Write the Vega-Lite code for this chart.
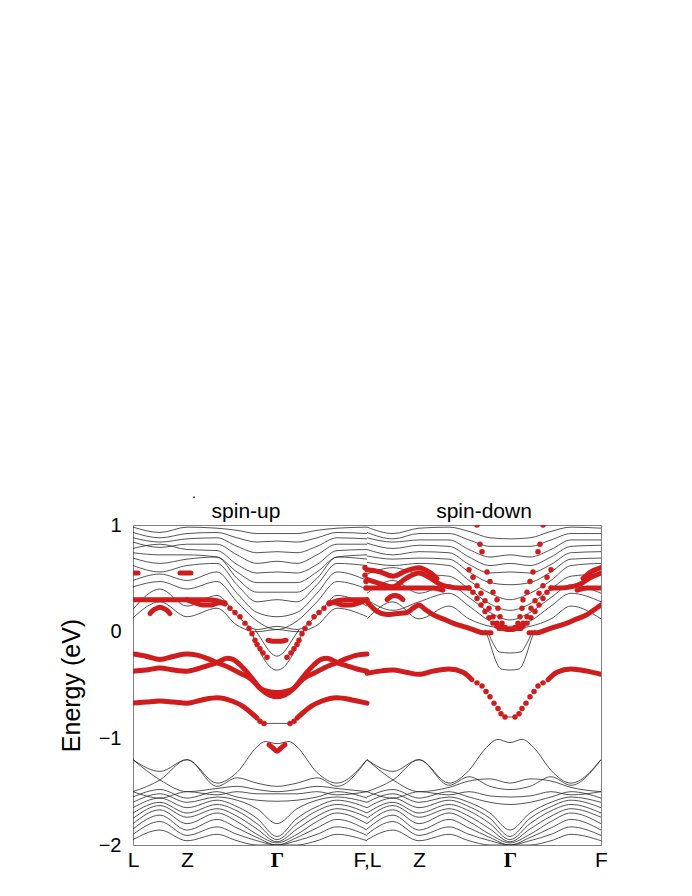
{
"$schema": "https://vega.github.io/schema/vega-lite/v6.json",
"width": 468, "height": 320,
"autosize": {"type": "none"},
"padding": {"left": 133, "top": 525, "right": 91, "bottom": 51},
"background": "white",
"config": {"view": {"stroke": "#808080", "strokeWidth": 1}},
"datasets": {
"vl": [{"x":54},{"x":144},{"x":234},{"x":286},{"x":377}],
"tt": [{"t":"spin-up","x":113,"e":1},{"t":"spin-down","x":351,"e":1}],
"bk": [
{"b":"U1","x":0,"e":0.98},{"b":"U1","x":27,"e":0.93},{"b":"U1","x":54,"e":0.98},{"b":"U1","x":84,"e":0.97},{"b":"U1","x":104,"e":0.95},{"b":"U1","x":124,"e":0.92},{"b":"U1","x":144,"e":0.92},{"b":"U1","x":164,"e":0.92},{"b":"U1","x":184,"e":0.95},{"b":"U1","x":204,"e":0.97},{"b":"U1","x":234,"e":0.98},
{"b":"U2","x":0,"e":0.93},{"b":"U2","x":27,"e":0.88},{"b":"U2","x":54,"e":0.92},{"b":"U2","x":84,"e":0.93},{"b":"U2","x":104,"e":0.88},{"b":"U2","x":124,"e":0.84},{"b":"U2","x":144,"e":0.85},{"b":"U2","x":164,"e":0.84},{"b":"U2","x":184,"e":0.88},{"b":"U2","x":204,"e":0.93},{"b":"U2","x":234,"e":0.92},
{"b":"U3","x":0,"e":0.88},{"b":"U3","x":27,"e":0.84},{"b":"U3","x":54,"e":0.87},{"b":"U3","x":84,"e":0.88},{"b":"U3","x":104,"e":0.80},{"b":"U3","x":124,"e":0.74},{"b":"U3","x":144,"e":0.75},{"b":"U3","x":164,"e":0.74},{"b":"U3","x":184,"e":0.80},{"b":"U3","x":204,"e":0.88},{"b":"U3","x":234,"e":0.87},
{"b":"U4","x":0,"e":0.84},{"b":"U4","x":27,"e":0.79},{"b":"U4","x":54,"e":0.82},{"b":"U4","x":84,"e":0.82},{"b":"U4","x":104,"e":0.72},{"b":"U4","x":124,"e":0.64},{"b":"U4","x":144,"e":0.66},{"b":"U4","x":164,"e":0.64},{"b":"U4","x":184,"e":0.72},{"b":"U4","x":204,"e":0.82},{"b":"U4","x":234,"e":0.82},
{"b":"U5","x":0,"e":0.78},{"b":"U5","x":27,"e":0.82},{"b":"U5","x":54,"e":0.77},{"b":"U5","x":84,"e":0.76},{"b":"U5","x":104,"e":0.63},{"b":"U5","x":124,"e":0.55},{"b":"U5","x":144,"e":0.56},{"b":"U5","x":164,"e":0.55},{"b":"U5","x":184,"e":0.63},{"b":"U5","x":204,"e":0.76},{"b":"U5","x":234,"e":0.77},
{"b":"U6","x":0,"e":0.74},{"b":"U6","x":27,"e":0.72},{"b":"U6","x":54,"e":0.72},{"b":"U6","x":84,"e":0.70},{"b":"U6","x":104,"e":0.56},{"b":"U6","x":124,"e":0.46},{"b":"U6","x":144,"e":0.46},{"b":"U6","x":164,"e":0.46},{"b":"U6","x":184,"e":0.56},{"b":"U6","x":204,"e":0.70},{"b":"U6","x":234,"e":0.72},
{"b":"U7","x":0,"e":0.69},{"b":"U7","x":27,"e":0.64},{"b":"U7","x":54,"e":0.68},{"b":"U7","x":84,"e":0.70},{"b":"U7","x":104,"e":0.50},{"b":"U7","x":124,"e":0.37},{"b":"U7","x":144,"e":0.37},{"b":"U7","x":164,"e":0.37},{"b":"U7","x":184,"e":0.50},{"b":"U7","x":204,"e":0.70},{"b":"U7","x":234,"e":0.68},
{"b":"U8","x":0,"e":0.62},{"b":"U8","x":27,"e":0.56},{"b":"U8","x":54,"e":0.62},{"b":"U8","x":84,"e":0.64},{"b":"U8","x":104,"e":0.44},{"b":"U8","x":124,"e":0.28},{"b":"U8","x":144,"e":0.30},{"b":"U8","x":164,"e":0.28},{"b":"U8","x":184,"e":0.44},{"b":"U8","x":204,"e":0.64},{"b":"U8","x":234,"e":0.62},
{"b":"U9","x":0,"e":0.48},{"b":"U9","x":27,"e":0.54},{"b":"U9","x":54,"e":0.48},{"b":"U9","x":84,"e":0.56},{"b":"U9","x":104,"e":0.36},{"b":"U9","x":124,"e":0.18},{"b":"U9","x":144,"e":0.14},{"b":"U9","x":164,"e":0.18},{"b":"U9","x":184,"e":0.36},{"b":"U9","x":204,"e":0.56},{"b":"U9","x":234,"e":0.48},
{"b":"U10","x":0,"e":0.42},{"b":"U10","x":27,"e":0.47},{"b":"U10","x":54,"e":0.40},{"b":"U10","x":84,"e":0.47},{"b":"U10","x":104,"e":0.28},{"b":"U10","x":124,"e":0.10},{"b":"U10","x":144,"e":0.02},{"b":"U10","x":164,"e":0.10},{"b":"U10","x":184,"e":0.28},{"b":"U10","x":204,"e":0.47},{"b":"U10","x":234,"e":0.40},
{"b":"U11","x":0,"e":0.21},{"b":"U11","x":27,"e":0.40},{"b":"U11","x":54,"e":0.24},{"b":"U11","x":84,"e":0.34},{"b":"U11","x":104,"e":0.15},{"b":"U11","x":124,"e":0.02},{"b":"U11","x":144,"e":0.05},{"b":"U11","x":164,"e":0.02},{"b":"U11","x":184,"e":0.15},{"b":"U11","x":204,"e":0.34},{"b":"U11","x":234,"e":0.24},
{"b":"U12","x":0,"e":0.13},{"b":"U12","x":27,"e":0.28},{"b":"U12","x":54,"e":0.14},{"b":"U12","x":84,"e":0.22},{"b":"U12","x":104,"e":0.06},{"b":"U12","x":124,"e":0.0},{"b":"U12","x":144,"e":0.02},{"b":"U12","x":164,"e":0.0},{"b":"U12","x":184,"e":0.06},{"b":"U12","x":204,"e":0.22},{"b":"U12","x":234,"e":0.14},
{"b":"P1","x":122,"e":0.02},{"b":"P1","x":129,"e":-0.08},{"b":"P1","x":137,"e":-0.19},{"b":"P1","x":144,"e":-0.23},{"b":"P1","x":151,"e":-0.19},{"b":"P1","x":159,"e":-0.08},{"b":"P1","x":166,"e":0.02},
{"b":"P2","x":117,"e":0.02},{"b":"P2","x":122,"e":-0.08},{"b":"P2","x":130,"e":-0.24},{"b":"P2","x":137,"e":-0.33},{"b":"P2","x":144,"e":-0.36},{"b":"P2","x":151,"e":-0.33},{"b":"P2","x":158,"e":-0.24},{"b":"P2","x":166,"e":-0.08},{"b":"P2","x":171,"e":0.02},
{"b":"K1","x":131,"e":-0.86},{"b":"K1","x":144,"e":-0.86},{"b":"K1","x":157,"e":-0.86},
{"b":"L1","x":0,"e":-1.20},{"b":"L1","x":27,"e":-1.31},{"b":"L1","x":54,"e":-1.20},{"b":"L1","x":84,"e":-1.42},{"b":"L1","x":104,"e":-1.32},{"b":"L1","x":124,"e":-1.08},{"b":"L1","x":132,"e":-1.03},{"b":"L1","x":144,"e":-1.05},{"b":"L1","x":156,"e":-1.03},{"b":"L1","x":164,"e":-1.08},{"b":"L1","x":184,"e":-1.32},{"b":"L1","x":204,"e":-1.42},{"b":"L1","x":234,"e":-1.20},
{"b":"L2","x":0,"e":-1.20},{"b":"L2","x":27,"e":-1.39},{"b":"L2","x":54,"e":-1.50},{"b":"L2","x":84,"e":-1.47},{"b":"L2","x":104,"e":-1.45},{"b":"L2","x":124,"e":-1.48},{"b":"L2","x":144,"e":-1.50},{"b":"L2","x":164,"e":-1.48},{"b":"L2","x":184,"e":-1.45},{"b":"L2","x":204,"e":-1.47},{"b":"L2","x":234,"e":-1.50},
{"b":"L3","x":0,"e":-1.50},{"b":"L3","x":27,"e":-1.39},{"b":"L3","x":54,"e":-1.20},{"b":"L3","x":84,"e":-1.45},{"b":"L3","x":104,"e":-1.37},{"b":"L3","x":124,"e":-1.42},{"b":"L3","x":144,"e":-1.45},{"b":"L3","x":164,"e":-1.42},{"b":"L3","x":184,"e":-1.37},{"b":"L3","x":204,"e":-1.45},{"b":"L3","x":234,"e":-1.20},
{"b":"L4","x":0,"e":-1.50},{"b":"L4","x":27,"e":-1.56},{"b":"L4","x":54,"e":-1.50},{"b":"L4","x":84,"e":-1.53},{"b":"L4","x":104,"e":-1.50},{"b":"L4","x":124,"e":-1.52},{"b":"L4","x":144,"e":-1.52},{"b":"L4","x":164,"e":-1.52},{"b":"L4","x":184,"e":-1.50},{"b":"L4","x":204,"e":-1.53},{"b":"L4","x":234,"e":-1.50},
{"b":"L5","x":0,"e":-1.55},{"b":"L5","x":27,"e":-1.48},{"b":"L5","x":54,"e":-1.56},{"b":"L5","x":84,"e":-1.50},{"b":"L5","x":104,"e":-1.55},{"b":"L5","x":124,"e":-1.58},{"b":"L5","x":144,"e":-1.59},{"b":"L5","x":164,"e":-1.58},{"b":"L5","x":184,"e":-1.55},{"b":"L5","x":204,"e":-1.50},{"b":"L5","x":234,"e":-1.56},
{"b":"L6","x":0,"e":-1.60},{"b":"L6","x":27,"e":-1.52},{"b":"L6","x":54,"e":-1.60},{"b":"L6","x":84,"e":-1.55},{"b":"L6","x":104,"e":-1.58},{"b":"L6","x":124,"e":-1.66},{"b":"L6","x":144,"e":-1.80},{"b":"L6","x":164,"e":-1.66},{"b":"L6","x":184,"e":-1.58},{"b":"L6","x":204,"e":-1.55},{"b":"L6","x":234,"e":-1.60},
{"b":"L7","x":0,"e":-1.65},{"b":"L7","x":27,"e":-1.56},{"b":"L7","x":54,"e":-1.65},{"b":"L7","x":84,"e":-1.58},{"b":"L7","x":104,"e":-1.64},{"b":"L7","x":124,"e":-1.75},{"b":"L7","x":144,"e":-1.92},{"b":"L7","x":164,"e":-1.75},{"b":"L7","x":184,"e":-1.64},{"b":"L7","x":204,"e":-1.58},{"b":"L7","x":234,"e":-1.65},
{"b":"L8","x":0,"e":-1.70},{"b":"L8","x":27,"e":-1.60},{"b":"L8","x":54,"e":-1.70},{"b":"L8","x":84,"e":-1.62},{"b":"L8","x":104,"e":-1.68},{"b":"L8","x":124,"e":-1.80},{"b":"L8","x":144,"e":-1.95},{"b":"L8","x":164,"e":-1.80},{"b":"L8","x":184,"e":-1.68},{"b":"L8","x":204,"e":-1.62},{"b":"L8","x":234,"e":-1.70},
{"b":"L9","x":0,"e":-1.75},{"b":"L9","x":27,"e":-1.63},{"b":"L9","x":54,"e":-1.74},{"b":"L9","x":84,"e":-1.66},{"b":"L9","x":104,"e":-1.73},{"b":"L9","x":124,"e":-1.85},{"b":"L9","x":144,"e":-1.97},{"b":"L9","x":164,"e":-1.85},{"b":"L9","x":184,"e":-1.73},{"b":"L9","x":204,"e":-1.66},{"b":"L9","x":234,"e":-1.74},
{"b":"L10","x":0,"e":-1.80},{"b":"L10","x":27,"e":-1.67},{"b":"L10","x":54,"e":-1.80},{"b":"L10","x":84,"e":-1.70},{"b":"L10","x":104,"e":-1.78},{"b":"L10","x":124,"e":-1.90},{"b":"L10","x":144,"e":-1.98},{"b":"L10","x":164,"e":-1.90},{"b":"L10","x":184,"e":-1.78},{"b":"L10","x":204,"e":-1.70},{"b":"L10","x":234,"e":-1.80},
{"b":"L11","x":0,"e":-1.85},{"b":"L11","x":27,"e":-1.72},{"b":"L11","x":54,"e":-1.86},{"b":"L11","x":84,"e":-1.76},{"b":"L11","x":104,"e":-1.84},{"b":"L11","x":124,"e":-1.93},{"b":"L11","x":144,"e":-2.0},{"b":"L11","x":164,"e":-1.93},{"b":"L11","x":184,"e":-1.84},{"b":"L11","x":204,"e":-1.76},{"b":"L11","x":234,"e":-1.86},
{"b":"L12","x":0,"e":-1.90},{"b":"L12","x":27,"e":-1.78},{"b":"L12","x":54,"e":-1.91},{"b":"L12","x":84,"e":-1.83},{"b":"L12","x":104,"e":-1.90},{"b":"L12","x":124,"e":-1.96},{"b":"L12","x":144,"e":-2.0},{"b":"L12","x":164,"e":-1.96},{"b":"L12","x":184,"e":-1.90},{"b":"L12","x":204,"e":-1.83},{"b":"L12","x":234,"e":-1.91},
{"b":"L13","x":0,"e":-1.95},{"b":"L13","x":27,"e":-1.86},{"b":"L13","x":54,"e":-1.96},{"b":"L13","x":84,"e":-1.90},{"b":"L13","x":104,"e":-1.96},{"b":"L13","x":124,"e":-2.0},{"b":"L13","x":144,"e":-2.0},{"b":"L13","x":164,"e":-2.0},{"b":"L13","x":184,"e":-1.96},{"b":"L13","x":204,"e":-1.90},{"b":"L13","x":234,"e":-1.96},
{"b":"D1","x":234,"e":0.98},{"b":"D1","x":260,"e":0.92},{"b":"D1","x":286,"e":0.97},{"b":"D1","x":316,"e":0.98},{"b":"D1","x":336,"e":0.94},{"b":"D1","x":357,"e":0.88},{"b":"D1","x":377,"e":0.87},{"b":"D1","x":397,"e":0.88},{"b":"D1","x":418,"e":0.94},{"b":"D1","x":438,"e":0.98},{"b":"D1","x":468,"e":0.97},
{"b":"D2","x":234,"e":0.93},{"b":"D2","x":260,"e":0.87},{"b":"D2","x":286,"e":0.92},{"b":"D2","x":316,"e":0.92},{"b":"D2","x":336,"e":0.86},{"b":"D2","x":357,"e":0.80},{"b":"D2","x":377,"e":0.80},{"b":"D2","x":397,"e":0.80},{"b":"D2","x":418,"e":0.86},{"b":"D2","x":438,"e":0.92},{"b":"D2","x":468,"e":0.92},
{"b":"D3","x":234,"e":0.88},{"b":"D3","x":260,"e":0.84},{"b":"D3","x":286,"e":0.86},{"b":"D3","x":316,"e":0.86},{"b":"D3","x":336,"e":0.77},{"b":"D3","x":357,"e":0.70},{"b":"D3","x":377,"e":0.72},{"b":"D3","x":397,"e":0.70},{"b":"D3","x":418,"e":0.77},{"b":"D3","x":438,"e":0.86},{"b":"D3","x":468,"e":0.86},
{"b":"D4","x":234,"e":0.83},{"b":"D4","x":260,"e":0.78},{"b":"D4","x":286,"e":0.81},{"b":"D4","x":316,"e":0.80},{"b":"D4","x":336,"e":0.70},{"b":"D4","x":357,"e":0.62},{"b":"D4","x":377,"e":0.64},{"b":"D4","x":397,"e":0.62},{"b":"D4","x":418,"e":0.70},{"b":"D4","x":438,"e":0.80},{"b":"D4","x":468,"e":0.81},
{"b":"D5","x":234,"e":0.77},{"b":"D5","x":260,"e":0.72},{"b":"D5","x":286,"e":0.75},{"b":"D5","x":316,"e":0.74},{"b":"D5","x":336,"e":0.63},{"b":"D5","x":357,"e":0.55},{"b":"D5","x":377,"e":0.56},{"b":"D5","x":397,"e":0.55},{"b":"D5","x":418,"e":0.63},{"b":"D5","x":438,"e":0.74},{"b":"D5","x":468,"e":0.75},
{"b":"D6","x":234,"e":0.71},{"b":"D6","x":260,"e":0.68},{"b":"D6","x":286,"e":0.69},{"b":"D6","x":316,"e":0.68},{"b":"D6","x":336,"e":0.56},{"b":"D6","x":357,"e":0.46},{"b":"D6","x":377,"e":0.44},{"b":"D6","x":397,"e":0.46},{"b":"D6","x":418,"e":0.56},{"b":"D6","x":438,"e":0.68},{"b":"D6","x":468,"e":0.69},
{"b":"D7","x":234,"e":0.65},{"b":"D7","x":260,"e":0.62},{"b":"D7","x":286,"e":0.64},{"b":"D7","x":316,"e":0.62},{"b":"D7","x":336,"e":0.48},{"b":"D7","x":357,"e":0.36},{"b":"D7","x":377,"e":0.30},{"b":"D7","x":397,"e":0.36},{"b":"D7","x":418,"e":0.48},{"b":"D7","x":438,"e":0.62},{"b":"D7","x":468,"e":0.64},
{"b":"D8","x":234,"e":0.54},{"b":"D8","x":260,"e":0.60},{"b":"D8","x":286,"e":0.54},{"b":"D8","x":316,"e":0.52},{"b":"D8","x":336,"e":0.40},{"b":"D8","x":357,"e":0.26},{"b":"D8","x":377,"e":0.20},{"b":"D8","x":397,"e":0.26},{"b":"D8","x":418,"e":0.40},{"b":"D8","x":438,"e":0.52},{"b":"D8","x":468,"e":0.54},
{"b":"D9","x":234,"e":0.36},{"b":"D9","x":260,"e":0.48},{"b":"D9","x":286,"e":0.36},{"b":"D9","x":316,"e":0.44},{"b":"D9","x":336,"e":0.32},{"b":"D9","x":357,"e":0.18},{"b":"D9","x":377,"e":0.11},{"b":"D9","x":397,"e":0.18},{"b":"D9","x":418,"e":0.32},{"b":"D9","x":438,"e":0.44},{"b":"D9","x":468,"e":0.36},
{"b":"D10","x":234,"e":0.30},{"b":"D10","x":260,"e":0.20},{"b":"D10","x":286,"e":0.28},{"b":"D10","x":316,"e":0.36},{"b":"D10","x":336,"e":0.24},{"b":"D10","x":357,"e":0.10},{"b":"D10","x":377,"e":0.05},{"b":"D10","x":397,"e":0.10},{"b":"D10","x":418,"e":0.24},{"b":"D10","x":438,"e":0.36},{"b":"D10","x":468,"e":0.28},
{"b":"D11","x":234,"e":0.12},{"b":"D11","x":260,"e":0.28},{"b":"D11","x":286,"e":0.12},{"b":"D11","x":316,"e":0.24},{"b":"D11","x":336,"e":0.12},{"b":"D11","x":357,"e":0.05},{"b":"D11","x":377,"e":0.03},{"b":"D11","x":397,"e":0.05},{"b":"D11","x":418,"e":0.12},{"b":"D11","x":438,"e":0.24},{"b":"D11","x":468,"e":0.12},
{"b":"Q1","x":355,"e":0.0},{"b":"Q1","x":358,"e":-0.07},{"b":"Q1","x":362,"e":-0.14},{"b":"Q1","x":366,"e":-0.19},{"b":"Q1","x":377,"e":-0.20},{"b":"Q1","x":388,"e":-0.19},{"b":"Q1","x":392,"e":-0.14},{"b":"Q1","x":396,"e":-0.07},{"b":"Q1","x":399,"e":0.0},
{"b":"Q2","x":352,"e":0.02},{"b":"Q2","x":356,"e":-0.08},{"b":"Q2","x":360,"e":-0.20},{"b":"Q2","x":364,"e":-0.30},{"b":"Q2","x":368,"e":-0.35},{"b":"Q2","x":377,"e":-0.36},{"b":"Q2","x":386,"e":-0.35},{"b":"Q2","x":390,"e":-0.30},{"b":"Q2","x":394,"e":-0.20},{"b":"Q2","x":398,"e":-0.08},{"b":"Q2","x":402,"e":0.02},
{"b":"K2","x":372,"e":-0.80},{"b":"K2","x":377,"e":-0.80},{"b":"K2","x":382,"e":-0.80},
{"b":"E1","x":234,"e":-1.20},{"b":"E1","x":260,"e":-1.31},{"b":"E1","x":286,"e":-1.20},{"b":"E1","x":316,"e":-1.42},{"b":"E1","x":336,"e":-1.30},{"b":"E1","x":352,"e":-1.10},{"b":"E1","x":365,"e":-1.01},{"b":"E1","x":377,"e":-1.04},{"b":"E1","x":389,"e":-1.01},{"b":"E1","x":402,"e":-1.10},{"b":"E1","x":418,"e":-1.30},{"b":"E1","x":438,"e":-1.42},{"b":"E1","x":468,"e":-1.20},
{"b":"E2","x":234,"e":-1.20},{"b":"E2","x":260,"e":-1.39},{"b":"E2","x":286,"e":-1.50},{"b":"E2","x":316,"e":-1.46},{"b":"E2","x":336,"e":-1.40},{"b":"E2","x":357,"e":-1.38},{"b":"E2","x":377,"e":-1.42},{"b":"E2","x":397,"e":-1.38},{"b":"E2","x":418,"e":-1.40},{"b":"E2","x":438,"e":-1.46},{"b":"E2","x":468,"e":-1.50},
{"b":"E3","x":234,"e":-1.50},{"b":"E3","x":260,"e":-1.39},{"b":"E3","x":286,"e":-1.20},{"b":"E3","x":316,"e":-1.44},{"b":"E3","x":336,"e":-1.36},{"b":"E3","x":357,"e":-1.45},{"b":"E3","x":377,"e":-1.48},{"b":"E3","x":397,"e":-1.45},{"b":"E3","x":418,"e":-1.36},{"b":"E3","x":438,"e":-1.44},{"b":"E3","x":468,"e":-1.20},
{"b":"E4","x":234,"e":-1.50},{"b":"E4","x":260,"e":-1.56},{"b":"E4","x":286,"e":-1.50},{"b":"E4","x":316,"e":-1.53},{"b":"E4","x":336,"e":-1.50},{"b":"E4","x":357,"e":-1.54},{"b":"E4","x":377,"e":-1.55},{"b":"E4","x":397,"e":-1.54},{"b":"E4","x":418,"e":-1.50},{"b":"E4","x":438,"e":-1.53},{"b":"E4","x":468,"e":-1.50},
{"b":"E5","x":234,"e":-1.55},{"b":"E5","x":260,"e":-1.48},{"b":"E5","x":286,"e":-1.56},{"b":"E5","x":316,"e":-1.50},{"b":"E5","x":336,"e":-1.55},{"b":"E5","x":357,"e":-1.60},{"b":"E5","x":377,"e":-1.62},{"b":"E5","x":397,"e":-1.60},{"b":"E5","x":418,"e":-1.55},{"b":"E5","x":438,"e":-1.50},{"b":"E5","x":468,"e":-1.56},
{"b":"E6","x":234,"e":-1.60},{"b":"E6","x":260,"e":-1.52},{"b":"E6","x":286,"e":-1.60},{"b":"E6","x":316,"e":-1.55},{"b":"E6","x":336,"e":-1.60},{"b":"E6","x":357,"e":-1.70},{"b":"E6","x":377,"e":-1.86},{"b":"E6","x":397,"e":-1.70},{"b":"E6","x":418,"e":-1.60},{"b":"E6","x":438,"e":-1.55},{"b":"E6","x":468,"e":-1.60},
{"b":"E7","x":234,"e":-1.65},{"b":"E7","x":260,"e":-1.56},{"b":"E7","x":286,"e":-1.65},{"b":"E7","x":316,"e":-1.58},{"b":"E7","x":336,"e":-1.64},{"b":"E7","x":357,"e":-1.75},{"b":"E7","x":377,"e":-1.92},{"b":"E7","x":397,"e":-1.75},{"b":"E7","x":418,"e":-1.64},{"b":"E7","x":438,"e":-1.58},{"b":"E7","x":468,"e":-1.65},
{"b":"E8","x":234,"e":-1.70},{"b":"E8","x":260,"e":-1.60},{"b":"E8","x":286,"e":-1.70},{"b":"E8","x":316,"e":-1.62},{"b":"E8","x":336,"e":-1.68},{"b":"E8","x":357,"e":-1.80},{"b":"E8","x":377,"e":-1.95},{"b":"E8","x":397,"e":-1.80},{"b":"E8","x":418,"e":-1.68},{"b":"E8","x":438,"e":-1.62},{"b":"E8","x":468,"e":-1.70},
{"b":"E9","x":234,"e":-1.75},{"b":"E9","x":260,"e":-1.63},{"b":"E9","x":286,"e":-1.74},{"b":"E9","x":316,"e":-1.66},{"b":"E9","x":336,"e":-1.73},{"b":"E9","x":357,"e":-1.85},{"b":"E9","x":377,"e":-1.97},{"b":"E9","x":397,"e":-1.85},{"b":"E9","x":418,"e":-1.73},{"b":"E9","x":438,"e":-1.66},{"b":"E9","x":468,"e":-1.74},
{"b":"E10","x":234,"e":-1.80},{"b":"E10","x":260,"e":-1.67},{"b":"E10","x":286,"e":-1.80},{"b":"E10","x":316,"e":-1.70},{"b":"E10","x":336,"e":-1.78},{"b":"E10","x":357,"e":-1.90},{"b":"E10","x":377,"e":-1.98},{"b":"E10","x":397,"e":-1.90},{"b":"E10","x":418,"e":-1.78},{"b":"E10","x":438,"e":-1.70},{"b":"E10","x":468,"e":-1.80},
{"b":"E11","x":234,"e":-1.85},{"b":"E11","x":260,"e":-1.72},{"b":"E11","x":286,"e":-1.86},{"b":"E11","x":316,"e":-1.76},{"b":"E11","x":336,"e":-1.84},{"b":"E11","x":357,"e":-1.93},{"b":"E11","x":377,"e":-2.0},{"b":"E11","x":397,"e":-1.93},{"b":"E11","x":418,"e":-1.84},{"b":"E11","x":438,"e":-1.76},{"b":"E11","x":468,"e":-1.86},
{"b":"E12","x":234,"e":-1.90},{"b":"E12","x":260,"e":-1.78},{"b":"E12","x":286,"e":-1.91},{"b":"E12","x":316,"e":-1.83},{"b":"E12","x":336,"e":-1.90},{"b":"E12","x":357,"e":-1.96},{"b":"E12","x":377,"e":-2.0},{"b":"E12","x":397,"e":-1.96},{"b":"E12","x":418,"e":-1.90},{"b":"E12","x":438,"e":-1.83},{"b":"E12","x":468,"e":-1.91},
{"b":"E13","x":234,"e":-1.95},{"b":"E13","x":260,"e":-1.86},{"b":"E13","x":286,"e":-1.96},{"b":"E13","x":316,"e":-1.90},{"b":"E13","x":336,"e":-1.96},{"b":"E13","x":357,"e":-2.0},{"b":"E13","x":377,"e":-2.0},{"b":"E13","x":397,"e":-2.0},{"b":"E13","x":418,"e":-1.96},{"b":"E13","x":438,"e":-1.90},{"b":"E13","x":468,"e":-1.96}
],
"rl": [
{"b":"rA","x":0,"e":-0.21},{"b":"rA","x":13,"e":-0.23},{"b":"rA","x":27,"e":-0.26},{"b":"rA","x":41,"e":-0.23},{"b":"rA","x":54,"e":-0.21},{"b":"rA","x":64,"e":-0.22},{"b":"rA","x":74,"e":-0.25},{"b":"rA","x":84,"e":-0.29},{"b":"rA","x":97,"e":-0.34},{"b":"rA","x":107,"e":-0.39},{"b":"rA","x":114,"e":-0.42},{"b":"rA","x":121,"e":-0.47},{"b":"rA","x":127,"e":-0.53},{"b":"rA","x":135,"e":-0.56},{"b":"rA","x":144,"e":-0.57},{"b":"rA","x":153,"e":-0.56},{"b":"rA","x":161,"e":-0.53},{"b":"rA","x":167,"e":-0.47},{"b":"rA","x":174,"e":-0.42},{"b":"rA","x":181,"e":-0.39},{"b":"rA","x":191,"e":-0.34},{"b":"rA","x":204,"e":-0.29},{"b":"rA","x":214,"e":-0.25},{"b":"rA","x":224,"e":-0.22},{"b":"rA","x":234,"e":-0.21},
{"b":"rB","x":0,"e":-0.37},{"b":"rB","x":13,"e":-0.36},{"b":"rB","x":27,"e":-0.34},{"b":"rB","x":41,"e":-0.36},{"b":"rB","x":54,"e":-0.37},{"b":"rB","x":64,"e":-0.35},{"b":"rB","x":74,"e":-0.32},{"b":"rB","x":84,"e":-0.29},{"b":"rB","x":94,"e":-0.25},{"b":"rB","x":100,"e":-0.26},{"b":"rB","x":107,"e":-0.31},{"b":"rB","x":114,"e":-0.38},{"b":"rB","x":120,"e":-0.45},{"b":"rB","x":126,"e":-0.52},{"b":"rB","x":132,"e":-0.57},{"b":"rB","x":138,"e":-0.60},{"b":"rB","x":144,"e":-0.61},{"b":"rB","x":150,"e":-0.60},{"b":"rB","x":156,"e":-0.57},{"b":"rB","x":162,"e":-0.52},{"b":"rB","x":168,"e":-0.45},{"b":"rB","x":174,"e":-0.38},{"b":"rB","x":181,"e":-0.31},{"b":"rB","x":188,"e":-0.26},{"b":"rB","x":194,"e":-0.25},{"b":"rB","x":204,"e":-0.29},{"b":"rB","x":214,"e":-0.32},{"b":"rB","x":224,"e":-0.35},{"b":"rB","x":234,"e":-0.37},
{"b":"rC1","x":0,"e":-0.67},{"b":"rC1","x":13,"e":-0.66},{"b":"rC1","x":27,"e":-0.65},{"b":"rC1","x":41,"e":-0.66},{"b":"rC1","x":54,"e":-0.67},{"b":"rC1","x":69,"e":-0.64},{"b":"rC1","x":84,"e":-0.62},{"b":"rC1","x":99,"e":-0.65},{"b":"rC1","x":110,"e":-0.70},{"b":"rC1","x":118,"e":-0.76},{"b":"rC1","x":124,"e":-0.81},
{"b":"rC2","x":164,"e":-0.81},{"b":"rC2","x":170,"e":-0.76},{"b":"rC2","x":178,"e":-0.70},{"b":"rC2","x":189,"e":-0.65},{"b":"rC2","x":204,"e":-0.62},{"b":"rC2","x":219,"e":-0.64},{"b":"rC2","x":234,"e":-0.67},
{"b":"rR1","x":0,"e":0.30},{"b":"rR1","x":27,"e":0.30},{"b":"rR1","x":54,"e":0.30},{"b":"rR1","x":64,"e":0.30},{"b":"rR1","x":74,"e":0.30},{"b":"rR1","x":84,"e":0.29},{"b":"rR1","x":92,"e":0.26},
{"b":"rR1d","x":54,"e":0.30},{"b":"rR1d","x":62,"e":0.27},{"b":"rR1d","x":70,"e":0.25},{"b":"rR1d","x":78,"e":0.25},{"b":"rR1d","x":86,"e":0.27},{"b":"rR1d","x":92,"e":0.27},
{"b":"rR1r","x":196,"e":0.26},{"b":"rR1r","x":204,"e":0.29},{"b":"rR1r","x":214,"e":0.30},{"b":"rR1r","x":234,"e":0.30},
{"b":"rR1dr","x":196,"e":0.27},{"b":"rR1dr","x":202,"e":0.27},{"b":"rR1dr","x":210,"e":0.25},{"b":"rR1dr","x":218,"e":0.25},{"b":"rR1dr","x":226,"e":0.27},{"b":"rR1dr","x":234,"e":0.30},
{"b":"rR2a","x":0,"e":0.55},{"b":"rR2a","x":5,"e":0.55},
{"b":"rR2b","x":47,"e":0.55},{"b":"rR2b","x":58,"e":0.55},
{"b":"rR3","x":17,"e":0.17},{"b":"rR3","x":20,"e":0.20},{"b":"rR3","x":24,"e":0.22},{"b":"rR3","x":27,"e":0.23},{"b":"rR3","x":30,"e":0.22},{"b":"rR3","x":34,"e":0.20},{"b":"rR3","x":37,"e":0.17},
{"b":"rG","x":135,"e":-0.08},{"b":"rG","x":140,"e":-0.09},{"b":"rG","x":144,"e":-0.09},{"b":"rG","x":148,"e":-0.09},{"b":"rG","x":153,"e":-0.08},
{"b":"rD","x":136,"e":-1.06},{"b":"rD","x":140,"e":-1.09},{"b":"rD","x":144,"e":-1.12},{"b":"rD","x":148,"e":-1.09},{"b":"rD","x":152,"e":-1.06},
{"b":"sG1","x":234,"e":-0.39},{"b":"sG1","x":247,"e":-0.37},{"b":"sG1","x":260,"e":-0.36},{"b":"sG1","x":273,"e":-0.38},{"b":"sG1","x":286,"e":-0.40},{"b":"sG1","x":300,"e":-0.37},{"b":"sG1","x":316,"e":-0.35},{"b":"sG1","x":330,"e":-0.38},{"b":"sG1","x":339,"e":-0.45},
{"b":"sG2","x":415,"e":-0.45},{"b":"sG2","x":424,"e":-0.38},{"b":"sG2","x":438,"e":-0.35},{"b":"sG2","x":454,"e":-0.37},{"b":"sG2","x":468,"e":-0.40},
{"b":"sa","x":234,"e":0.58},{"b":"sa","x":247,"e":0.56},{"b":"sa","x":260,"e":0.52},{"b":"sa","x":273,"e":0.57},{"b":"sa","x":286,"e":0.60},{"b":"sa","x":296,"e":0.56},{"b":"sa","x":304,"e":0.50},
{"b":"sar","x":450,"e":0.50},{"b":"sar","x":458,"e":0.56},{"b":"sar","x":468,"e":0.60},
{"b":"sb","x":234,"e":0.49},{"b":"sb","x":247,"e":0.45},{"b":"sb","x":260,"e":0.42},{"b":"sb","x":273,"e":0.50},{"b":"sb","x":286,"e":0.55},{"b":"sb","x":296,"e":0.51},{"b":"sb","x":306,"e":0.45},{"b":"sb","x":316,"e":0.42},{"b":"sb","x":326,"e":0.41},{"b":"sb","x":336,"e":0.41},
{"b":"sbr","x":418,"e":0.41},{"b":"sbr","x":428,"e":0.41},{"b":"sbr","x":438,"e":0.42},{"b":"sbr","x":448,"e":0.45},{"b":"sbr","x":458,"e":0.51},{"b":"sbr","x":468,"e":0.55},
{"b":"sc","x":234,"e":0.41},{"b":"sc","x":260,"e":0.41},{"b":"sc","x":286,"e":0.41},{"b":"sc","x":300,"e":0.41},{"b":"sc","x":310,"e":0.39},
{"b":"scr","x":444,"e":0.39},{"b":"scr","x":454,"e":0.41},{"b":"scr","x":468,"e":0.41},
{"b":"sd","x":234,"e":0.28},{"b":"sd","x":244,"e":0.19},{"b":"sd","x":254,"e":0.16},{"b":"sd","x":264,"e":0.17},{"b":"sd","x":274,"e":0.18},{"b":"sd","x":280,"e":0.22},{"b":"sd","x":286,"e":0.25},{"b":"sd","x":292,"e":0.21},{"b":"sd","x":300,"e":0.16},{"b":"sd","x":310,"e":0.12},{"b":"sd","x":320,"e":0.08},{"b":"sd","x":330,"e":0.05},{"b":"sd","x":340,"e":0.02},{"b":"sd","x":350,"e":-0.01},{"b":"sd","x":358,"e":-0.01},
{"b":"sdr","x":396,"e":-0.01},{"b":"sdr","x":404,"e":-0.01},{"b":"sdr","x":414,"e":0.02},{"b":"sdr","x":424,"e":0.05},{"b":"sdr","x":434,"e":0.08},{"b":"sdr","x":444,"e":0.12},{"b":"sdr","x":454,"e":0.16},{"b":"sdr","x":462,"e":0.21},{"b":"sdr","x":468,"e":0.25},
{"b":"se","x":254,"e":0.30},{"b":"se","x":258,"e":0.33},{"b":"se","x":262,"e":0.34},{"b":"se","x":266,"e":0.33},{"b":"se","x":270,"e":0.30},
{"b":"sg","x":366,"e":0.03},{"b":"sg","x":370,"e":0.03},{"b":"sg","x":374,"e":0.02},{"b":"sg","x":377,"e":0.02},{"b":"sg","x":380,"e":0.02},{"b":"sg","x":384,"e":0.03},{"b":"sg","x":388,"e":0.03}
],
"rd": [
{"x":97,"e":0.22},{"x":102,"e":0.18},{"x":107,"e":0.14},{"x":112,"e":0.08},{"x":116,"e":0.03},{"x":119,"e":-0.02},{"x":122,"e":-0.08},{"x":124,"e":-0.12},{"x":127,"e":-0.16},{"x":130,"e":-0.20},{"x":134,"e":-0.24},
{"x":154,"e":-0.24},{"x":158,"e":-0.20},{"x":161,"e":-0.16},{"x":164,"e":-0.12},{"x":166,"e":-0.08},{"x":169,"e":-0.02},{"x":172,"e":0.03},{"x":176,"e":0.08},{"x":181,"e":0.14},{"x":186,"e":0.18},{"x":191,"e":0.22},
{"x":232,"e":0.60},{"x":232,"e":0.53},{"x":233,"e":0.47},{"x":233,"e":0.41},
{"x":127,"e":-0.84},{"x":131,"e":-0.86},{"x":157,"e":-0.86},{"x":161,"e":-0.84},
{"x":344,"e":-0.48},{"x":349,"e":-0.51},{"x":353,"e":-0.56},{"x":357,"e":-0.61},{"x":361,"e":-0.67},{"x":365,"e":-0.72},{"x":368,"e":-0.77},{"x":372,"e":-0.80},
{"x":382,"e":-0.80},{"x":386,"e":-0.77},{"x":389,"e":-0.72},{"x":393,"e":-0.67},{"x":397,"e":-0.61},{"x":401,"e":-0.56},{"x":405,"e":-0.51},{"x":410,"e":-0.48},
{"x":344,"e":1.0},{"x":347,"e":0.82},{"x":349,"e":0.75},{"x":354,"e":0.56},{"x":357,"e":0.47},{"x":360,"e":0.37},{"x":364,"e":0.30},{"x":365,"e":0.22},{"x":367,"e":0.14},{"x":369,"e":0.08},{"x":372,"e":0.04},
{"x":410,"e":1.0},{"x":407,"e":0.82},{"x":405,"e":0.75},{"x":400,"e":0.56},{"x":397,"e":0.47},{"x":394,"e":0.37},{"x":390,"e":0.30},{"x":389,"e":0.22},{"x":387,"e":0.14},{"x":385,"e":0.08},{"x":382,"e":0.04},
{"x":336,"e":0.58},{"x":340,"e":0.51},{"x":344,"e":0.43},{"x":348,"e":0.36},{"x":352,"e":0.29},{"x":356,"e":0.22},{"x":360,"e":0.14},{"x":364,"e":0.08},{"x":368,"e":0.04},
{"x":418,"e":0.58},{"x":414,"e":0.51},{"x":410,"e":0.43},{"x":406,"e":0.36},{"x":402,"e":0.29},{"x":398,"e":0.22},{"x":394,"e":0.14},{"x":390,"e":0.08},{"x":386,"e":0.04},
{"x":336,"e":0.41},{"x":340,"e":0.37},{"x":344,"e":0.31},{"x":348,"e":0.25},{"x":352,"e":0.19},{"x":356,"e":0.13},{"x":360,"e":0.08},{"x":364,"e":0.05},
{"x":418,"e":0.41},{"x":414,"e":0.37},{"x":410,"e":0.31},{"x":406,"e":0.25},{"x":402,"e":0.19},{"x":398,"e":0.13},{"x":394,"e":0.08},{"x":390,"e":0.05}
]
},
"encoding": {
"x": {"field": "x", "type": "quantitative", "scale": {"domain": [0, 468], "nice": false, "zero": false},
 "axis": {"values": [0, 54, 144, 234, 286, 377, 468], "title": null, "ticks": false, "domain": false, "grid": false,
  "labelExpr": "datum.value==0?'L':(datum.value==54||datum.value==286)?'Z':(datum.value==144||datum.value==377)?'Γ':datum.value==234?'F,L':'F'",
  "labelFontSize": 21, "labelFont": {"condition": {"test": "datum.value==144||datum.value==377", "value": "Liberation Serif"}, "value": "Liberation Sans"},
  "labelFontWeight": {"condition": {"test": "datum.value==144||datum.value==377", "value": "bold"}, "value": "normal"},
  "labelColor": "#000", "labelPadding": 4, "labelFlush": false, "labelOverlap": false, "labelBound": false}},
"y": {"field": "e", "type": "quantitative", "scale": {"domain": [-2, 1], "nice": false, "zero": false},
 "axis": {"values": [-2, -1, 0, 1], "title": "Energy (eV)", "titleFont": "Liberation Sans", "titleFontSize": 25, "titleFontWeight": "normal", "titleColor": "#000", "titlePadding": 14,
  "labelFont": "Liberation Sans", "labelFontSize": 20, "labelColor": "#000", "labelPadding": 12, "ticks": false, "domain": false, "grid": false, "labelFlush": false}}
},
"layer": [
{"data": {"name": "vl"}, "mark": {"type": "rule", "color": "#808080", "strokeWidth": 1}, "encoding": {"y": {"datum": -2}, "y2": {"datum": 1}}},
{"data": {"values": [{"z": 0}]}, "mark": {"type": "rule", "color": "#808080", "strokeWidth": 1}, "encoding": {"x": {"datum": 0}, "x2": {"datum": 468}, "y": {"datum": 0}}},
{"data": {"name": "bk"}, "mark": {"type": "line", "color": "#2a2a2a", "strokeWidth": 0.8, "interpolate": "monotone", "clip": true}, "encoding": {"detail": {"field": "b"}}},
{"data": {"name": "rl"}, "mark": {"type": "line", "color": "#d01c1c", "strokeWidth": 5, "strokeCap": "round", "strokeJoin": "round", "interpolate": "monotone", "clip": true}, "encoding": {"detail": {"field": "b"}}},
{"data": {"name": "rd"}, "mark": {"type": "circle", "color": "#d01c1c", "size": 30, "opacity": 1, "clip": true}, "encoding": {}},
{"data": {"name": "tt"}, "mark": {"type": "text", "fontSize": 21, "font": "Liberation Sans", "color": "#000", "baseline": "alphabetic", "dy": -7}, "encoding": {"text": {"field": "t"}}},
{"data": {"values": [{"t": ".", "x": 61, "e": 1}]}, "mark": {"type": "text", "fontSize": 14, "font": "Liberation Sans", "color": "#000", "baseline": "alphabetic", "dy": -27}, "encoding": {"text": {"field": "t"}}}
]
}
